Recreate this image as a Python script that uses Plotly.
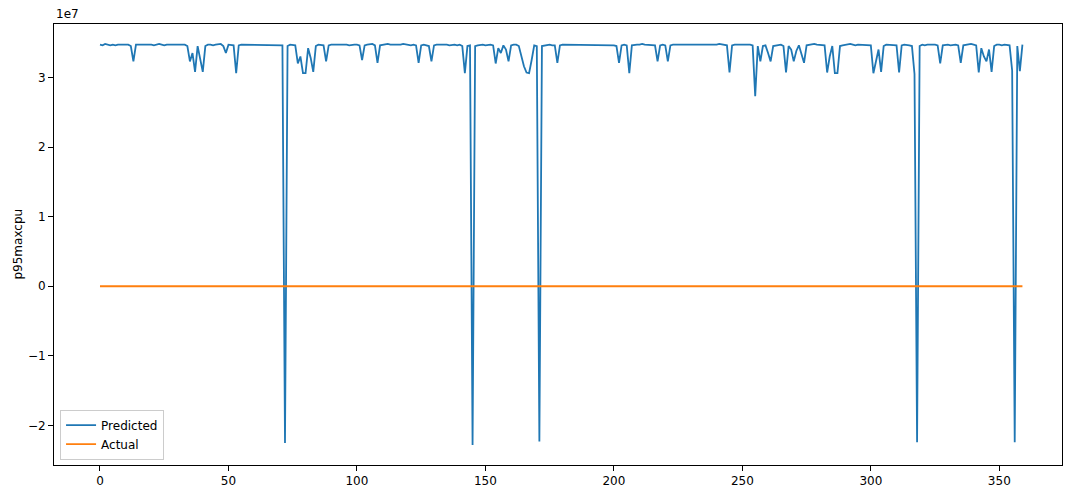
import plotly.graph_objects as go

# x index (0..359)
x_index = list(range(360))

# Predicted values, in units of 1e7 (matplotlib offset "1e7")
predicted_1e7 = [
    3.47, 3.46, 3.48, 3.47, 3.46, 3.47, 3.46, 3.47, 3.47, 3.46, 3.47, 3.47, 3.45, 3.23, 3.47, 3.47, 3.47, 3.48, 3.47, 3.47,
    3.47, 3.46, 3.47, 3.48, 3.47, 3.46, 3.47, 3.47, 3.46, 3.47, 3.47, 3.46, 3.47, 3.47, 3.45, 3.23, 3.35, 3.08, 3.45, 3.28,
    3.08, 3.45, 3.47, 3.47, 3.46, 3.47, 3.47, 3.48, 3.45, 3.35, 3.47, 3.47, 3.46, 3.06, 3.46, 3.47, 3.47, 3.46, 3.47, 3.47,
    3.47, 3.46, 3.47, 3.47, 3.47, 3.46, 3.47, 3.47, 3.46, 3.47, 3.47, 3.46, -2.25, 3.45, 3.47, 3.47, 3.46, 3.20, 3.30, 3.06,
    3.06, 3.42, 3.28, 3.08, 3.45, 3.47, 3.47, 3.46, 3.23, 3.46, 3.47, 3.47, 3.48, 3.47, 3.47, 3.48, 3.47, 3.46, 3.47, 3.47,
    3.47, 3.46, 3.25, 3.46, 3.47, 3.47, 3.48, 3.46, 3.21, 3.46, 3.47, 3.47, 3.48, 3.47, 3.47, 3.47, 3.46, 3.47, 3.48, 3.47,
    3.47, 3.46, 3.47, 3.46, 3.21, 3.46, 3.47, 3.46, 3.45, 3.23, 3.46, 3.47, 3.47, 3.48, 3.47, 3.47, 3.46, 3.47, 3.47, 3.46,
    3.47, 3.45, 3.06, 3.45, 3.46, -2.28, 3.45, 3.46, 3.47, 3.47, 3.46, 3.47, 3.47, 3.46, 3.20, 3.42, 3.35, 3.46, 3.40, 3.23,
    3.46, 3.47, 3.47, 3.45, 3.32, 3.16, 3.07, 3.06, 3.25, 3.46, 3.45, -2.23, 3.45, 3.46, 3.46, 3.47, 3.46, 3.46, 3.21, 3.46,
    3.47, 3.47, 3.46, 3.47, 3.47, 3.46, 3.47, 3.47, 3.47, 3.47, 3.46, 3.47, 3.47, 3.46, 3.47, 3.47, 3.47, 3.46, 3.47, 3.47,
    3.46, 3.45, 3.21, 3.46, 3.47, 3.46, 3.06, 3.46, 3.47, 3.47, 3.47, 3.48, 3.47, 3.47, 3.46, 3.47, 3.46, 3.23, 3.46, 3.47,
    3.46, 3.23, 3.46, 3.47, 3.47, 3.46, 3.47, 3.47, 3.47, 3.46, 3.46, 3.47, 3.46, 3.46, 3.46, 3.46, 3.46, 3.47, 3.47, 3.47,
    3.47, 3.48, 3.47, 3.47, 3.46, 3.07, 3.46, 3.47, 3.47, 3.48, 3.47, 3.47, 3.48, 3.47, 3.46, 2.73, 3.45, 3.23, 3.45, 3.46,
    3.35, 3.23, 3.45, 3.46, 3.47, 3.47, 3.45, 3.07, 3.45, 3.40, 3.23, 3.38, 3.46, 3.35, 3.21, 3.46, 3.47, 3.47, 3.48, 3.47,
    3.47, 3.46, 3.46, 3.07, 3.30, 3.45, 3.06, 3.06, 3.45, 3.46, 3.47, 3.47, 3.48, 3.47, 3.46, 3.47, 3.47, 3.47, 3.46, 3.47,
    3.46, 3.06, 3.25, 3.40, 3.08, 3.45, 3.47, 3.47, 3.46, 3.47, 3.46, 3.07, 3.46, 3.47, 3.47, 3.46, 3.45, 3.05, -2.24, 3.45,
    3.47, 3.46, 3.47, 3.47, 3.48, 3.47, 3.46, 3.20, 3.46, 3.47, 3.47, 3.46, 3.47, 3.47, 3.46, 3.21, 3.46, 3.47, 3.47, 3.48,
    3.47, 3.46, 3.07, 3.42, 3.30, 3.23, 3.40, 3.08, 3.45, 3.47, 3.47, 3.46, 3.47, 3.47, 3.46, 3.10, -2.24, 3.45, 3.09, 3.47,
]

# Actual values (in units of 1e7): visually 0 everywhere at this scale
actual_1e7 = [0.0] * len(x_index)

series_names = ["Predicted", "Actual"]
series_colors = ["#1f77b4", "#ff7f0e"]

x_tick_vals = [0, 50, 100, 150, 200, 250, 300, 350]
y_tick_vals = [-2, -1, 0, 1, 2, 3]
y_tick_text = ["\u22122", "\u22121", "0", "1", "2", "3"]

FONT = "DejaVu Sans"
W, H = 1065, 490
ML, MR, MT, MB = 54, 2, 24, 23

fig = go.Figure()
fig.add_trace(go.Scatter(x=x_index, y=predicted_1e7, mode="lines", name=series_names[0],
                         line=dict(color=series_colors[0], width=1.8)))
fig.add_trace(go.Scatter(x=x_index, y=actual_1e7, mode="lines", name=series_names[1],
                         line=dict(color=series_colors[1], width=1.8)))

fig.update_layout(
    width=W, height=H,
    margin=dict(l=ML, r=MR, t=MT, b=MB),
    paper_bgcolor="white", plot_bgcolor="white",
    font=dict(family=FONT, size=12, color="#000000"),
    showlegend=True,
    legend=dict(x=0.006, y=0.012, xanchor="left", yanchor="bottom",
                bgcolor="rgba(255,255,255,0.8)", bordercolor="#cccccc", borderwidth=1,
                font=dict(family=FONT, size=12), tracegroupgap=0),
    xaxis=dict(range=[-17.9, 374.4], tickvals=x_tick_vals, ticks="outside", ticklen=5,
               tickcolor="#000", showline=True, linecolor="#000", linewidth=1, mirror=True,
               showgrid=False, zeroline=False, tickfont=dict(size=12)),
    yaxis=dict(range=[-2.567, 3.767], tickvals=y_tick_vals, ticktext=y_tick_text,
               ticks="outside", ticklen=5, tickcolor="#000", showline=True, linecolor="#000",
               linewidth=1, mirror=True, showgrid=False, zeroline=False, tickfont=dict(size=12)),
    annotations=[
        dict(text="1e7", x=0, y=1, xref="paper", yref="paper", xanchor="left", yanchor="bottom",
             yshift=1, showarrow=False, font=dict(family=FONT, size=12)),
        dict(text="p95maxcpu", x=(17 - ML) / (W - ML - MR), y=0.5, xref="paper", yref="paper",
             textangle=-90, xanchor="center", yanchor="middle", showarrow=False,
             font=dict(family=FONT, size=12)),
    ],
)

fig.write_html("out.html", config={"displayModeBar": False})

# remove the browser's default page margin so the figure sits at the window origin
with open("out.html", "r", encoding="utf-8") as f:
    html = f.read()
html = html.replace("<head>", "<head><style>html,body{margin:0;padding:0;overflow:hidden;}</style>", 1)
with open("out.html", "w", encoding="utf-8") as f:
    f.write(html)
